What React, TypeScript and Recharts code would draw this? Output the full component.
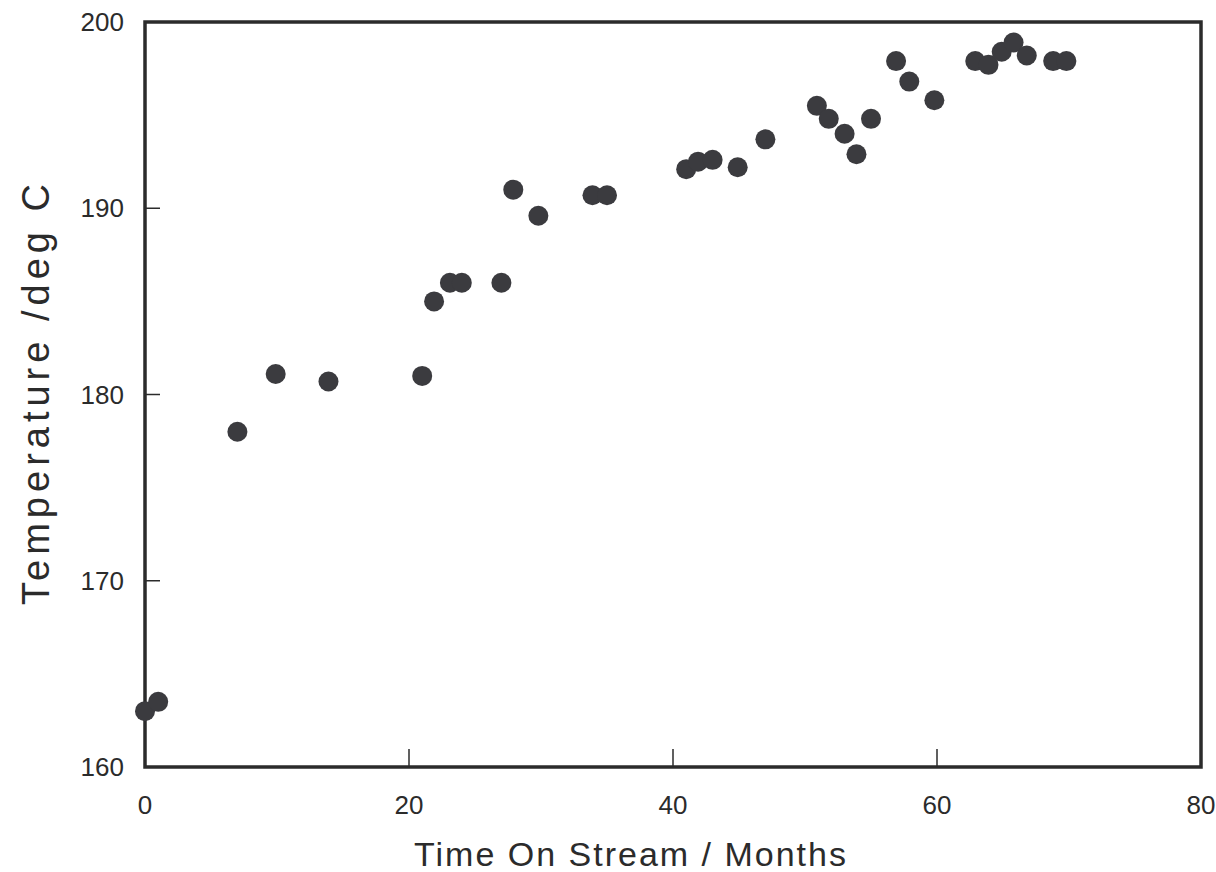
import React from "react";
import {
  ScatterChart,
  Scatter,
  XAxis,
  YAxis,
  ReferenceArea,
  Label,
} from "recharts";

// time on stream (months) and the matching temperature (deg C)
const months = [
  0, 1.0, 7, 9.9, 13.9, 21, 21.9, 23.1, 24, 27, 27.9, 29.8, 33.9, 35, 41,
  41.9, 43, 44.9, 47, 50.9, 51.8, 53, 53.9, 55, 56.9, 57.9, 59.8, 62.9, 63.9,
  64.9, 65.8, 66.8, 68.8, 69.8,
];
const temps = [
  163.0, 163.5, 178.0, 181.1, 180.7, 181.0, 185.0, 186.0, 186.0, 186.0, 191.0,
  189.6, 190.7, 190.7, 192.1, 192.5, 192.6, 192.2, 193.7, 195.5, 194.8, 194.0,
  192.9, 194.8, 197.9, 196.8, 195.8, 197.9, 197.7, 198.4, 198.9, 198.2, 197.9,
  197.9,
];
const xTicks = [0, 20, 40, 60, 80];
const yTicks = [160, 170, 180, 190, 200];

const data = months.map((m, i) => ({ month: m, temp: temps[i] }));

const W = 1216;
const H = 872;
const PLOT_LEFT = 145;
const PLOT_BOTTOM = 767;
const FONT = "'Liberation Sans', Arial, sans-serif";
const INK = "#2b2b2b";

const XTick = (props: any) => {
  const { x, payload } = props;
  const v = payload.value;
  const inner = v !== 0 && v !== 80;
  return (
    <g>
      {inner && (
        <line x1={x} x2={x} y1={PLOT_BOTTOM} y2={PLOT_BOTTOM - 18} stroke={INK} strokeWidth={1.5} />
      )}
      <text
        x={x}
        y={PLOT_BOTTOM + 38}
        textAnchor="middle"
        dominantBaseline="central"
        fontFamily={FONT}
        fontSize={26}
        fill={INK}
      >
        {v}
      </text>
    </g>
  );
};

const YTick = (props: any) => {
  const { y, payload } = props;
  const v = payload.value;
  const inner = v !== 160 && v !== 200;
  return (
    <g>
      {inner && (
        <line x1={PLOT_LEFT} x2={PLOT_LEFT + 15} y1={y} y2={y} stroke={INK} strokeWidth={1.5} />
      )}
      <text
        x={124}
        y={y}
        textAnchor="end"
        dominantBaseline="central"
        fontFamily={FONT}
        fontSize={26}
        fill={INK}
      >
        {v}
      </text>
    </g>
  );
};

const Dot = (props: any) => (
  <circle cx={props.cx} cy={props.cy} r={10} fill="#3b3b3f" />
);

export default function App() {
  return (
    <div style={{ position: "absolute", left: 0, top: 0, width: W, height: H, background: "#fff" }}>
      <ScatterChart
        width={W}
        height={H}
        margin={{ top: 22, right: 15, bottom: 45, left: 45 }}
      >
        <XAxis
          type="number"
          dataKey="month"
          domain={[0, 80]}
          ticks={xTicks}
          axisLine={false}
          tickLine={false}
          tick={<XTick />}
          height={60}
        >
          <Label
            content={() => (
              <text
                x={631}
                y={854}
                textAnchor="middle"
                dominantBaseline="central"
                fontFamily={FONT}
                fontSize={34}
                letterSpacing={2}
                fill={INK}
              >
                Time On Stream / Months
              </text>
            )}
          />
        </XAxis>
        <YAxis
          type="number"
          dataKey="temp"
          domain={[160, 200]}
          ticks={yTicks}
          axisLine={false}
          tickLine={false}
          tick={<YTick />}
          width={100}
        >
          <Label
            content={() => (
              <text
                x={36}
                y={392}
                transform="rotate(-90 36 392)"
                textAnchor="middle"
                dominantBaseline="central"
                fontFamily={FONT}
                fontSize={38}
                letterSpacing={5}
                fill={INK}
              >
                Temperature /deg C
              </text>
            )}
          />
        </YAxis>
        <ReferenceArea
          x1={0}
          x2={80}
          y1={160}
          y2={200}
          fill="none"
          stroke={INK}
          strokeWidth={3.5}
          ifOverflow="visible"
        />
        <Scatter data={data} shape={<Dot />} isAnimationActive={false} />
      </ScatterChart>
    </div>
  );
}
